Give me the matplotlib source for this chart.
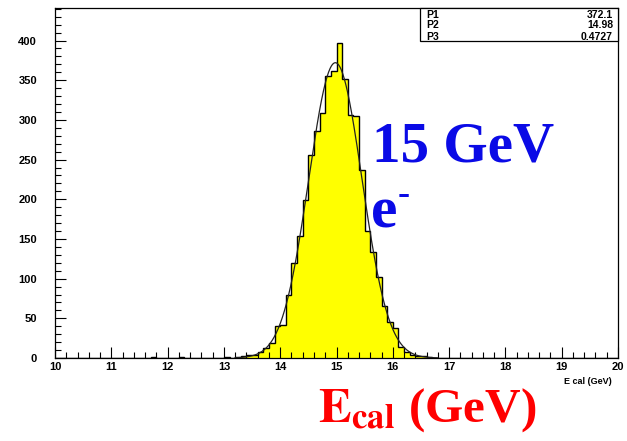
import matplotlib
matplotlib.use("Agg")
import matplotlib.pyplot as plt
import numpy as np
from matplotlib.ticker import MultipleLocator

# histogram contents (bin width 0.1 GeV, left edges)
bin_left = [11.7, 12.2, 13.0,
            13.2, 13.3, 13.4, 13.5, 13.6, 13.7, 13.8, 13.9,
            14.0, 14.1, 14.2, 14.3, 14.4, 14.5, 14.6, 14.7, 14.8, 14.9,
            15.0, 15.1, 15.2, 15.3, 15.4, 15.5, 15.6, 15.7, 15.8, 15.9,
            16.0, 16.1, 16.2, 16.3, 16.4, 16.5, 16.6]
counts = [1, 1, 1,
          1, 2, 4, 4, 7, 13, 19, 40,
          42, 80, 120, 154, 199, 256, 286, 309, 355, 361,
          397, 352, 306, 305, 237, 160, 134, 102, 66, 45,
          38, 14, 7, 4, 2, 2, 1]

# fit parameters shown in the stats box
p_names = ["P1", "P2", "P3"]
p_values = ["372.1", "14.98", "0.4727"]
p1, p2, p3 = 372.1, 14.98, 0.4727

x_min, x_max, n_bins = 10, 20, 100

edges = np.linspace(x_min, x_max, n_bins + 1)
h = np.zeros(n_bins)
for xl, c in zip(bin_left, counts):
    h[int(round((xl - x_min) / 0.1))] = c

plt.rcParams["mathtext.fontset"] = "stix"

fig = plt.figure(figsize=(6.27, 4.41), dpi=100)
ax = fig.add_axes([55 / 627, 1 - 358 / 441, 563 / 627, 350 / 441])

ax.stairs(h, edges, fill=True, color="#ffff00", lw=0)
ax.stairs(h, edges, color="black", lw=1.0)

# gaussian fit curve
xf = np.linspace(13.2, 16.8, 400)
ax.plot(xf, p1 * np.exp(-0.5 * ((xf - p2) / p3) ** 2), color="#222222", lw=0.9)

ax.set_xlim(x_min, x_max)
ax.set_ylim(0, 441)
ax.xaxis.set_major_locator(MultipleLocator(1))
ax.xaxis.set_minor_locator(MultipleLocator(0.2))
ax.yaxis.set_major_locator(MultipleLocator(50))
ax.yaxis.set_minor_locator(MultipleLocator(10))
ax.tick_params(which="both", direction="in", top=False, right=False)
ax.tick_params(which="major", length=8, width=0.8)
ax.tick_params(which="minor", length=4, width=0.8)
ax.tick_params(axis="y", pad=13)
ax.tick_params(axis="x", pad=3)
for lab in ax.get_xticklabels() + ax.get_yticklabels():
    lab.set_fontfamily("Liberation Sans")
    lab.set_fontweight("bold")
    lab.set_fontsize(8)
for s in ax.spines.values():
    s.set_linewidth(0.9)

# axis title (ROOT style, small, at right)
fig.text(612 / 627, 1 - 381 / 441, "E cal (GeV)", ha="right", va="center",
         fontsize=6.5, fontweight="bold", family="Liberation Sans")

# stats box
bx0, bx1, by0, by1 = 420, 618, 8, 41
fig.patches.append(plt.Rectangle((bx0 / 627, 1 - by1 / 441), (bx1 - bx0) / 627,
                                 (by1 - by0) / 441, transform=fig.transFigure,
                                 fill=True, facecolor="white", edgecolor="black",
                                 lw=0.9, zorder=5))
for i, (n, v) in enumerate(zip(p_names, p_values)):
    yy = 1 - (14.5 + 11 * i) / 441
    fig.text(426 / 627, yy, n, ha="left", va="center", fontsize=7.5,
             fontweight="bold", family="Liberation Sans", zorder=6)
    fig.text(613 / 627, yy, v, ha="right", va="center", fontsize=7.5,
             fontweight="bold", family="Liberation Sans", zorder=6)

blue = "#0a0ae6"
fig.text(372 / 627, 1 - 162 / 441, "15 GeV", ha="left", va="baseline",
         fontsize=41, fontweight="bold", family="Liberation Serif", color=blue)
fig.text(371 / 627, 1 - 227 / 441, "e", ha="left", va="baseline",
         fontsize=43, fontweight="bold", family="Liberation Serif", color=blue)
fig.text(398 / 627, 1 - 204 / 441, "-", ha="left", va="baseline",
         fontsize=26, fontweight="bold", family="Liberation Serif", color=blue)

fig.text(318 / 627, 1 - 422 / 441, r"$\mathbf{E_{cal}}$ (GeV)", ha="left",
         va="baseline", fontsize=35.5, fontweight="bold", family="Liberation Serif",
         color="#ff0000")

fig.savefig("out.png", dpi=100)
